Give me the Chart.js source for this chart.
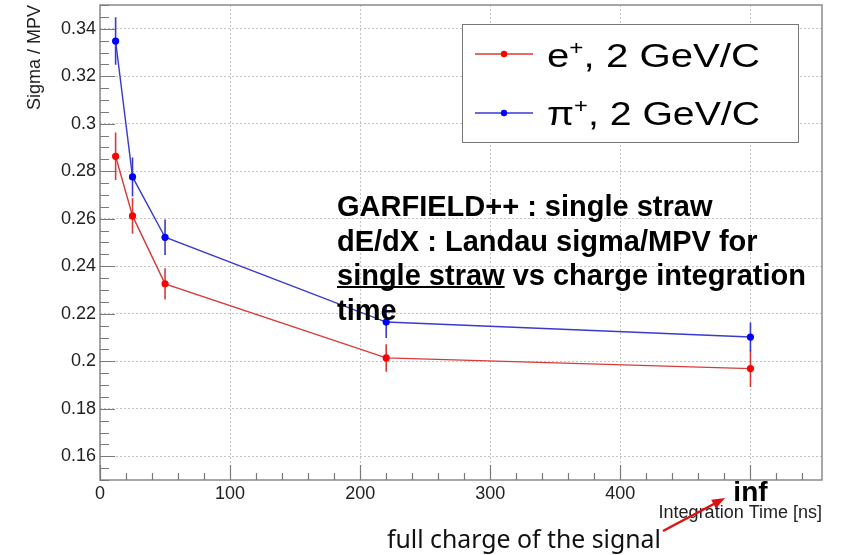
<!DOCTYPE html>
<html><head><meta charset="utf-8">
<script src="https://cdn.jsdelivr.net/npm/chart.js@4.4.0/dist/chart.umd.min.js"></script>
<style>html,body{margin:0;padding:0;background:#fff}#wrap{width:843px;height:555px}</style>
</head><body><div id="wrap"><canvas id="c" width="843" height="555"></canvas></div>
<script>
// ---- data ----
const integrationTime = [12, 25, 50, 220, 500];
const positronSigmaMPV = [0.2863, 0.2612, 0.2326, 0.2014, 0.1969];
const positronError    = [0.0100, 0.0075, 0.0066, 0.0058, 0.0077];
const pionSigmaMPV     = [0.3348, 0.2776, 0.2522, 0.2165, 0.2102];
const pionError        = [0.0100, 0.0082, 0.0075, 0.0067, 0.0061];
const seriesLabels = ['e⁺, 2 GeV/C', 'π⁺, 2 GeV/C'];
const xTickValues = [0, 100, 200, 300, 400, 500];
const xTickLabels = ['0', '100', '200', '300', '400', 'inf'];
const yTickValues = [0.16, 0.18, 0.20, 0.22, 0.24, 0.26, 0.28, 0.30, 0.32, 0.34];
const yTickLabels = ['0.16', '0.18', '0.2', '0.22', '0.24', '0.26', '0.28', '0.3', '0.32', '0.34'];
const xTitle = 'Integration Time [ns]';
const yTitle = 'Sigma / MPV';
const noteLines = ['GARFIELD++ : single straw', 'dE/dX : Landau sigma/MPV for', 'single straw| vs charge integration', 'time'];
const footNote = 'full charge of the signal';

const SANS = '"Liberation Sans", Arial, Helvetica, sans-serif';
const lineColors = ['#d83a3a', '#3a3ad0'];
const markColors = ['#ff0000', '#0000ff'];

const toPoints = (xs, ys) => xs.map((x, i) => ({x: x, y: ys[i]}));

const decor = {
  id: 'decor',
  beforeDraw(chart) {
    const c = chart.ctx;
    c.save(); c.fillStyle = '#fff'; c.fillRect(0, 0, chart.width, chart.height); c.restore();
  },
  beforeDatasetsDraw(chart) {
    const c = chart.ctx, a = chart.chartArea;
    const xs = chart.scales.x, ys = chart.scales.y;
    c.save();
    // frame
    c.strokeStyle = '#8a8a8a'; c.lineWidth = 1.5;
    c.strokeRect(a.left, a.top, a.right - a.left, a.bottom - a.top);
    // tick marks (inside)
    c.lineWidth = 1.2; c.strokeStyle = '#7a7a7a';
    c.beginPath();
    for (let k = 0; k <= 40; k++) {
      const v = ys.min + k * 0.005;
      if (v > ys.max + 1e-9) break;
      const major = yTickValues.some(t => Math.abs(t - v) < 1e-6);
      const p = Math.round(ys.getPixelForValue(v)) + 0.5;
      c.moveTo(a.left, p); c.lineTo(a.left + (major ? 15 : 9), p);
    }
    for (let k = 0; k <= 40; k++) {
      const v = k * 20;
      if (v > xs.max) break;
      const major = xTickValues.includes(v);
      const p = Math.round(xs.getPixelForValue(v)) + 0.5;
      c.moveTo(p, a.bottom); c.lineTo(p, a.bottom - (major ? 15 : 7));
    }
    c.stroke();
    // error bars
    chart.data.datasets.forEach((ds, di) => {
      c.strokeStyle = lineColors[di]; c.lineWidth = 1.6;
      c.beginPath();
      ds.data.forEach((pt, i) => {
        const px = xs.getPixelForValue(pt.x);
        c.moveTo(px, ys.getPixelForValue(pt.y - ds.errors[i]));
        c.lineTo(px, ys.getPixelForValue(pt.y + ds.errors[i]));
      });
      c.stroke();
    });
    c.restore();
  },
  afterDraw(chart) {
    const c = chart.ctx, a = chart.chartArea;
    c.save();
    // axis titles
    c.fillStyle = '#222';
    c.font = '18px ' + SANS;
    c.textAlign = 'right'; c.textBaseline = 'alphabetic';
    c.fillText(xTitle, a.right, 518);
    c.save();
    c.translate(40, a.top); c.rotate(-Math.PI / 2);
    c.textAlign = 'right';
    c.fillText(yTitle, 0, 0);
    c.restore();

    // legend
    const L = {x: 462, y: 24, w: 336, h: 118};
    c.fillStyle = '#fff'; c.fillRect(L.x, L.y, L.w, L.h);
    c.strokeStyle = '#777'; c.lineWidth = 1; c.strokeRect(L.x + 0.5, L.y + 0.5, L.w, L.h);
    const rows = [{ly: 54, base: 67}, {ly: 113, base: 125}];
    chart.data.datasets.forEach((ds, di) => {
      const r = rows[di];
      c.strokeStyle = lineColors[di]; c.lineWidth = 1.3;
      c.beginPath(); c.moveTo(475, r.ly); c.lineTo(533, r.ly); c.stroke();
      c.fillStyle = markColors[di];
      c.beginPath(); c.arc(504, r.ly, 3.2, 0, Math.PI * 2); c.fill();
      const parts = ds.label.split('⁺');
      c.font = '33px ' + SANS;
      const w0 = c.measureText(parts[0]).width, w2 = c.measureText(parts[1]).width;
      c.font = '20px ' + SANS;
      const w1 = c.measureText('+').width;
      const sx = 213 / (w0 + w1 + w2);
      c.save();
      c.translate(547, r.base); c.scale(sx, 1);
      c.fillStyle = '#000'; c.textAlign = 'left'; c.textBaseline = 'alphabetic';
      c.font = '33px ' + SANS; c.fillText(parts[0], 0, 0);
      c.font = '20px ' + SANS; c.fillText('+', w0, -12);
      c.font = '33px ' + SANS; c.fillText(parts[1], w0 + w1, 0);
      c.restore();
    });

    // annotation text
    c.fillStyle = '#000'; c.font = 'bold 29px ' + SANS; c.textAlign = 'left';
    const bases = [216, 251, 285, 320];
    noteLines.forEach((ln, i) => {
      const seg = ln.split('|');
      c.fillText(seg.join(''), 337, bases[i]);
      if (seg.length > 1) {
        const w = c.measureText(seg[0]).width;
        c.fillRect(337, bases[i] + 1, w, 2);
      }
    });

    // footnote + arrow
    c.font = '22px "Noto Sans", sans-serif';
    const mw = c.measureText(footNote).width;
    const fs = 22 * 274 / mw;
    c.font = fs.toFixed(2) + 'px "Noto Sans", sans-serif';
    c.fillStyle = '#111';
    c.fillText(footNote, 387, 548);
    const x0 = 663, y0 = 531, x1 = 725, y1 = 498;
    c.strokeStyle = '#e01010'; c.fillStyle = '#e01010'; c.lineWidth = 2.5;
    const ang = Math.atan2(y1 - y0, x1 - x0);
    c.beginPath(); c.moveTo(x0, y0); c.lineTo(x1 - 9 * Math.cos(ang), y1 - 9 * Math.sin(ang)); c.stroke();
    c.beginPath();
    c.moveTo(x1, y1);
    c.lineTo(x1 - 13 * Math.cos(ang) + 5 * Math.sin(ang), y1 - 13 * Math.sin(ang) - 5 * Math.cos(ang));
    c.lineTo(x1 - 13 * Math.cos(ang) - 5 * Math.sin(ang), y1 - 13 * Math.sin(ang) + 5 * Math.cos(ang));
    c.closePath(); c.fill();
    c.restore();
  }
};

new Chart(document.getElementById('c'), {
  type: 'scatter',
  data: {
    datasets: [
      {label: seriesLabels[0], data: toPoints(integrationTime, positronSigmaMPV), errors: positronError,
       showLine: true, borderColor: lineColors[0], borderWidth: 1.4, pointRadius: 3.6,
       pointBackgroundColor: markColors[0], pointBorderWidth: 0, tension: 0},
      {label: seriesLabels[1], data: toPoints(integrationTime, pionSigmaMPV), errors: pionError,
       showLine: true, borderColor: lineColors[1], borderWidth: 1.4, pointRadius: 3.6,
       pointBackgroundColor: markColors[1], pointBorderWidth: 0, tension: 0}
    ]
  },
  options: {
    responsive: false, animation: false, devicePixelRatio: 1,
    layout: {padding: {top: 5, right: 21, left: 0, bottom: 0}},
    plugins: {legend: {display: false}, tooltip: {enabled: false}},
    scales: {
      x: {
        type: 'linear', min: 0, max: 555,
        afterBuildTicks: s => { s.ticks = xTickValues.map(v => ({value: v})); },
        afterFit: s => { s.height = 75; s.paddingLeft = 0; s.paddingRight = 0; },
        ticks: {
          autoSkip: false, maxRotation: 0, minRotation: 0, padding: 3,
          callback: (v, i) => xTickLabels[i],
          font: ctx => (xTickLabels[ctx.index] === 'inf')
            ? {family: SANS, size: 28, weight: 'bold', lineHeight: 0.7}
            : {family: SANS, size: 18},
          color: ctx => (xTickLabels[ctx.index] === 'inf') ? '#000' : '#222'
        },
        grid: {color: '#c4c4c4', lineWidth: 1, drawTicks: false},
        border: {display: false, dash: [2, 2]}
      },
      y: {
        type: 'linear', min: 0.15, max: 0.35,
        afterBuildTicks: s => { s.ticks = yTickValues.map(v => ({value: v})); },
        afterFit: s => { s.width = 100; s.paddingTop = 0; s.paddingBottom = 0; },
        ticks: {padding: 4, color: '#222', font: {family: SANS, size: 18},
                callback: (v, i) => yTickLabels[i]},
        grid: {color: '#c4c4c4', lineWidth: 1, drawTicks: false},
        border: {display: false, dash: [2, 2]}
      }
    }
  },
  plugins: [decor]
});
</script></body></html>
